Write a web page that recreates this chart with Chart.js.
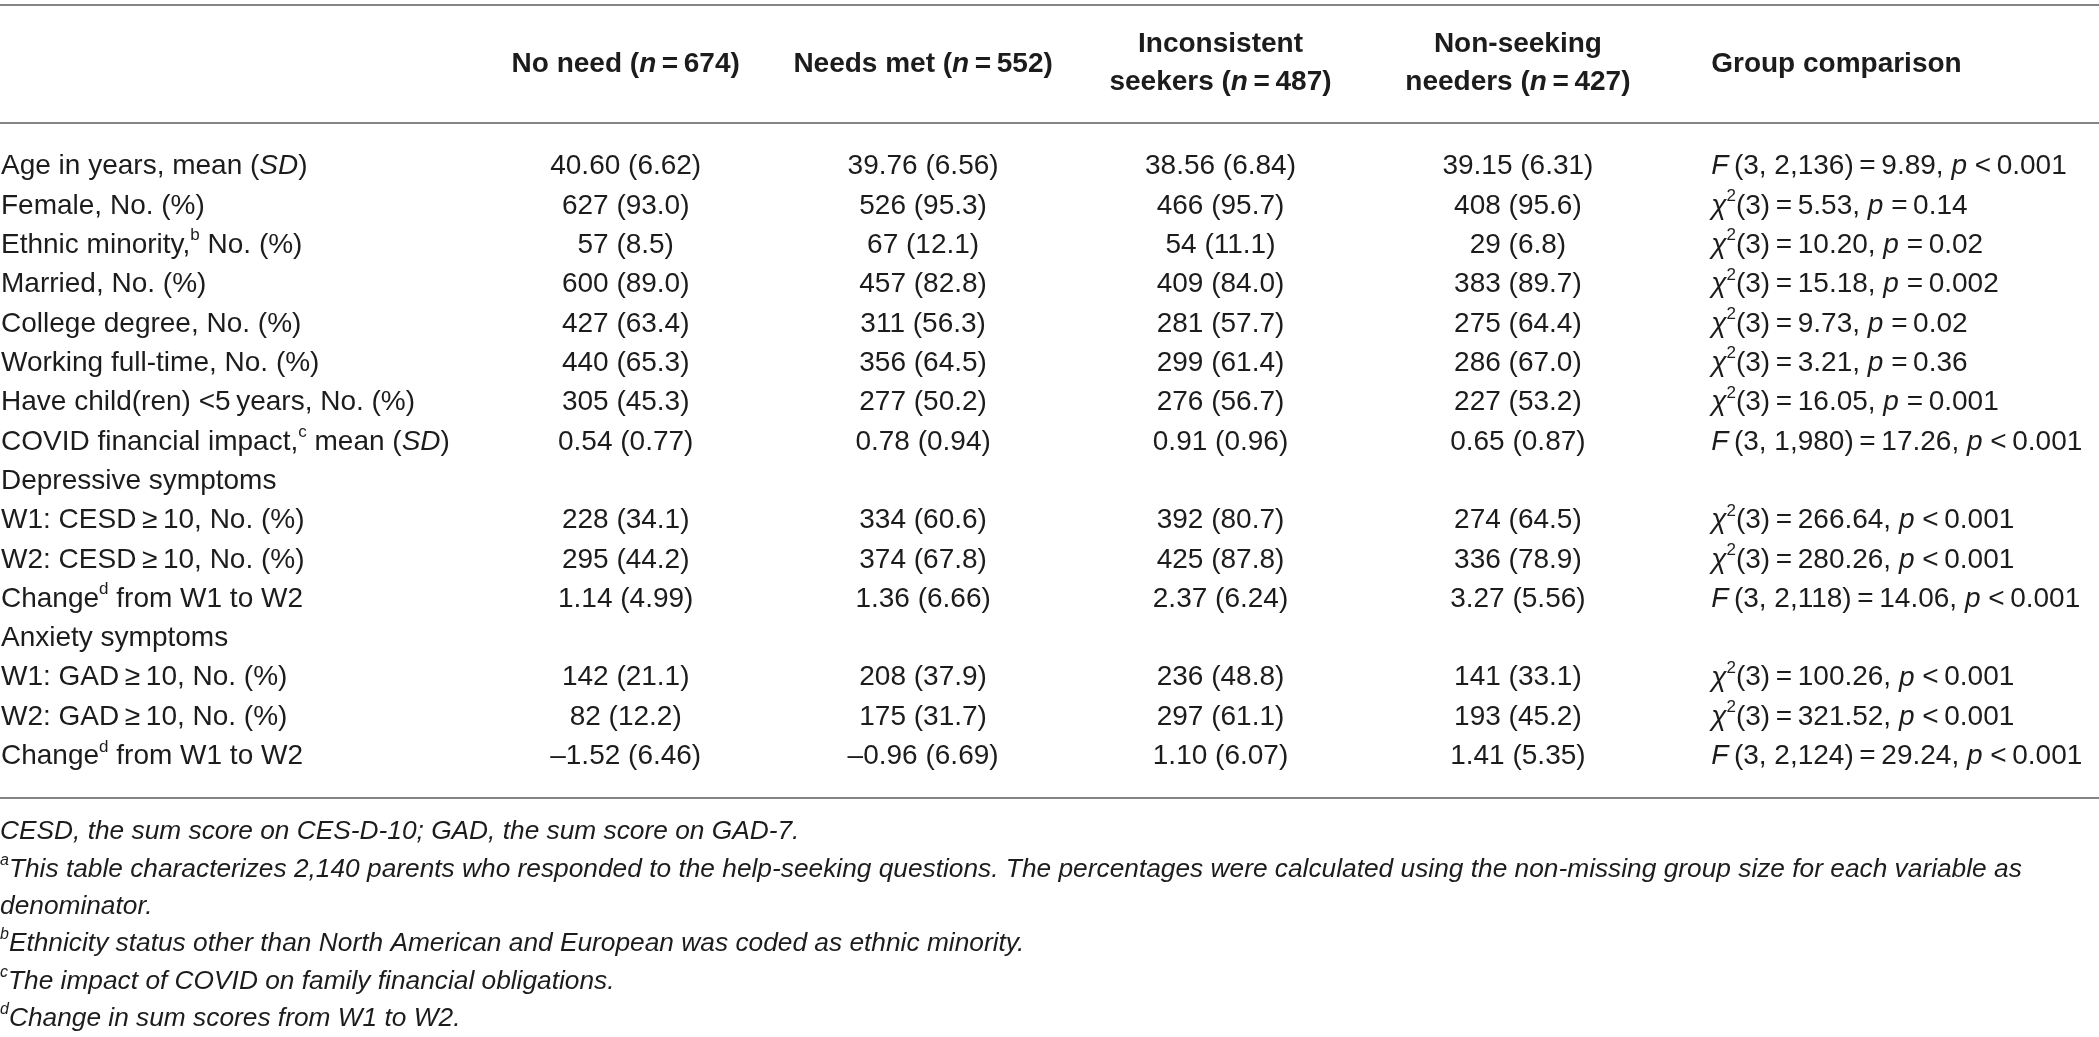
<!DOCTYPE html>
<html>
<head>
<meta charset="utf-8">
<script src="https://cdn.jsdelivr.net/npm/chart.js@4.4.1/dist/chart.umd.min.js"></script>
<style>
  html, body { margin: 0; padding: 0; background: #fff; }
  #wrap { width: 2099px; height: 1037px; }
</style>
</head>
<body>
<div id="wrap"><canvas id="tableChart"></canvas></div>
<script>
// markup in strings: *italic*  ^superscript^
const rowLabels = [
  'Age in years, mean (*SD*)',
  'Female, No. (%)',
  'Ethnic minority,^b^ No. (%)',
  'Married, No. (%)',
  'College degree, No. (%)',
  'Working full-time, No. (%)',
  'Have child(ren) <5\u2009years, No. (%)',
  'COVID financial impact,^c^ mean (*SD*)',
  'Depressive symptoms',
  'W1: CESD\u2009\u2265\u200910, No. (%)',
  'W2: CESD\u2009\u2265\u200910, No. (%)',
  'Change^d^ from W1 to W2',
  'Anxiety symptoms',
  'W1: GAD\u2009\u2265\u200910, No. (%)',
  'W2: GAD\u2009\u2265\u200910, No. (%)',
  'Change^d^ from W1 to W2'
];

const groupKeys = ['noNeed', 'needsMet', 'inconsistent', 'nonSeeking', 'comparison'];
const groupHeaders = [
  ['No need (*n*\u2009=\u2009674)'],
  ['Needs met (*n*\u2009=\u2009552)'],
  ['Inconsistent', 'seekers (*n*\u2009=\u2009487)'],
  ['Non-seeking', 'needers (*n*\u2009=\u2009427)'],
  ['Group comparison']
];

const noNeed = ['40.60 (6.62)', '627 (93.0)', '57 (8.5)', '600 (89.0)', '427 (63.4)', '440 (65.3)', '305 (45.3)', '0.54 (0.77)',
  '', '228 (34.1)', '295 (44.2)', '1.14 (4.99)', '', '142 (21.1)', '82 (12.2)', '\u20131.52 (6.46)'];
const needsMet = ['39.76 (6.56)', '526 (95.3)', '67 (12.1)', '457 (82.8)', '311 (56.3)', '356 (64.5)', '277 (50.2)', '0.78 (0.94)',
  '', '334 (60.6)', '374 (67.8)', '1.36 (6.66)', '', '208 (37.9)', '175 (31.7)', '\u20130.96 (6.69)'];
const inconsistent = ['38.56 (6.84)', '466 (95.7)', '54 (11.1)', '409 (84.0)', '281 (57.7)', '299 (61.4)', '276 (56.7)', '0.91 (0.96)',
  '', '392 (80.7)', '425 (87.8)', '2.37 (6.24)', '', '236 (48.8)', '297 (61.1)', '1.10 (6.07)'];
const nonSeeking = ['39.15 (6.31)', '408 (95.6)', '29 (6.8)', '383 (89.7)', '275 (64.4)', '286 (67.0)', '227 (53.2)', '0.65 (0.87)',
  '', '274 (64.5)', '336 (78.9)', '3.27 (5.56)', '', '141 (33.1)', '193 (45.2)', '1.41 (5.35)'];

// group comparison: test, df, statistic, p
const testType = ['F', 'X', 'X', 'X', 'X', 'X', 'X', 'F', '', 'X', 'X', 'F', '', 'X', 'X', 'F'];
const testDf = ['3, 2,136', '3', '3', '3', '3', '3', '3', '3, 1,980', '', '3', '3', '3, 2,118', '', '3', '3', '3, 2,124'];
const testStat = ['9.89', '5.53', '10.20', '15.18', '9.73', '3.21', '16.05', '17.26', '', '266.64', '280.26', '14.06', '', '100.26', '321.52', '29.24'];
const testP = ['<0.001', '=0.14', '=0.02', '=0.002', '=0.02', '=0.36', '=0.001', '<0.001', '', '<0.001', '<0.001', '<0.001', '', '<0.001', '<0.001', '<0.001'];

const footnotes = [
  'CESD, the sum score on CES-D-10; GAD, the sum score on GAD-7.',
  '^a^This table characterizes 2,140 parents who responded to the help-seeking questions. The percentages were calculated using the non-missing group size for each variable as',
  'denominator.',
  '^b^Ethnicity status other than North American and European was coded as ethnic minority.',
  '^c^The impact of COVID on family financial obligations.',
  '^d^Change in sum scores from W1 to W2.'
];

const columns = [noNeed, needsMet, inconsistent, nonSeeking];

function comparisonText(i) {
  if (!testType[i]) return '';
  const lead = testType[i] === 'F' ? '*F*\u2009(' + testDf[i] + ')' : '*\u03c7*^2^(' + testDf[i] + ')';
  const op = testP[i].charAt(0), pv = testP[i].slice(1);
  return lead + '\u2009=\u2009' + testStat[i] + ', *p* ' + op + '\u2009' + pv;
}

const FONT = '"Liberation Sans", Arial, sans-serif';
const INK = '#1c1c1c';

function parseRich(str) {
  const parts = [];
  let it = false, sup = false, buf = '';
  for (const ch of str) {
    if (ch === '*' || ch === '^') {
      if (buf) parts.push({ t: buf, it: it, sup: sup });
      buf = '';
      if (ch === '*') it = !it; else sup = !sup;
    } else {
      buf += ch;
    }
  }
  if (buf) parts.push({ t: buf, it: it, sup: sup });
  return parts;
}

function drawRich(ctx, str, x, y, o) {
  const parts = parseRich(str);
  const fontOf = p => {
    const size = p.sup ? Math.round(o.size * 0.62) : o.size;
    const italic = p.it !== !!o.italic;
    return (italic ? 'italic ' : '') + (o.bold ? 'bold ' : '') + size + 'px ' + FONT;
  };
  let total = 0;
  parts.forEach(p => { ctx.font = fontOf(p); p.w = ctx.measureText(p.t).width; total += p.w; });
  let cx = o.align === 'center' ? x - total / 2 : x;
  ctx.textAlign = 'left';
  ctx.textBaseline = 'middle';
  parts.forEach(p => {
    ctx.font = fontOf(p);
    ctx.fillText(p.t, cx, p.sup ? y - o.size * 0.34 : y);
    cx += p.w;
  });
}

const tablePlugin = {
  id: 'tableText',
  afterDraw(chart) {
    const ctx = chart.ctx;
    const area = chart.chartArea;
    const xs = chart.scales.x, ys = chart.scales.y;
    const colW = xs.getPixelForValue(1) - xs.getPixelForValue(0);
    const rowH = ys.getPixelForValue(1) - ys.getPixelForValue(0);
    const cmpX = xs.getPixelForValue(4) - colW * 0.35;

    const ruleTop = 5;
    const ruleHead = area.top - rowH * 0.6;
    const ruleBottom = area.bottom + rowH * 0.56;

    ctx.save();
    // rules
    ctx.strokeStyle = '#858585';
    ctx.lineWidth = 2;
    [ruleTop, ruleHead, ruleBottom].forEach(yy => {
      ctx.beginPath();
      ctx.moveTo(0, Math.round(yy));
      ctx.lineTo(chart.width, Math.round(yy));
      ctx.stroke();
    });

    ctx.fillStyle = INK;
    // header
    groupHeaders.forEach((lines, g) => {
      const gx = g === 4 ? cmpX : xs.getPixelForValue(g);
      const align = g === 4 ? 'left' : 'center';
      if (lines.length === 1) {
        drawRich(ctx, lines[0], gx, ruleHead - 59, { size: 28, bold: true, align: align });
      } else {
        drawRich(ctx, lines[0], gx, ruleHead - 79, { size: 28, bold: true, align: align });
        drawRich(ctx, lines[1], gx, ruleHead - 41, { size: 28, bold: true, align: align });
      }
    });

    // body rows
    rowLabels.forEach((lab, i) => {
      const yy = ys.getPixelForValue(i);
      drawRich(ctx, lab, 1, yy, { size: 28 });
      columns.forEach((col, g) => {
        if (col[i]) drawRich(ctx, col[i], xs.getPixelForValue(g), yy, { size: 28, align: 'center' });
      });
      const cmp = comparisonText(i);
      if (cmp) drawRich(ctx, cmp, cmpX, yy, { size: 28 });
    });

    // footnotes
    footnotes.forEach((f, k) => {
      drawRich(ctx, f, 0, ruleBottom + 34 + k * 37.3, { size: 26.3, italic: true });
    });
    ctx.restore();
  }
};

new Chart(document.getElementById('tableChart'), {
  type: 'scatter',
  data: { datasets: [] },
  options: {
    responsive: true,
    maintainAspectRatio: false,
    animation: false,
    layout: { padding: { left: 477, right: 135, top: 147, bottom: 261 } },
    plugins: { legend: { display: false }, tooltip: { enabled: false } },
    scales: {
      x: { type: 'category', labels: groupKeys, offset: true, display: false },
      y: { type: 'category', labels: rowLabels, offset: true, display: false }
    }
  },
  plugins: [tablePlugin]
});
</script>
</body>
</html>
